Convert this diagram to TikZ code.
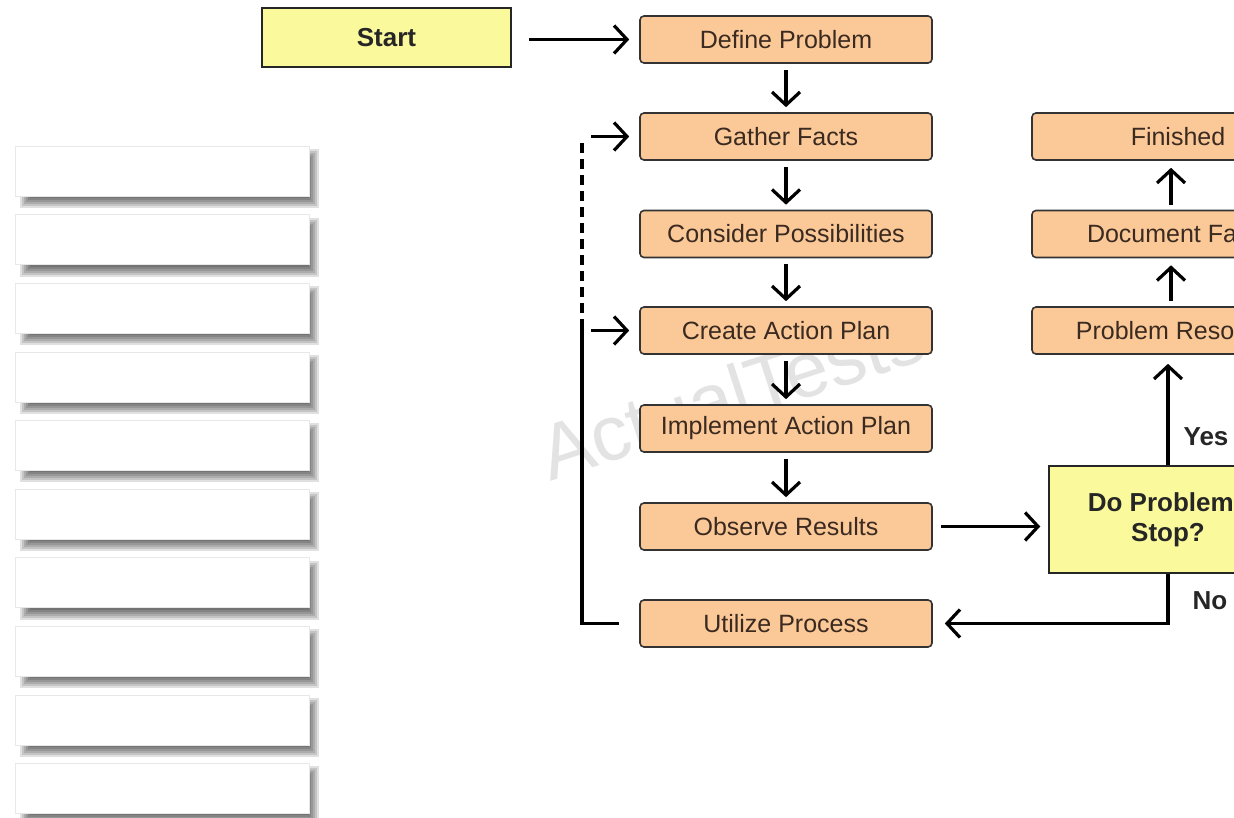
\documentclass[tikz,border=0pt]{standalone}
\usepackage{fontspec}
\setmainfont{Liberation Sans}
\usetikzlibrary{arrows.meta}
\definecolor{peach}{HTML}{FBC898}
\definecolor{yel}{HTML}{FAFA9C}
\definecolor{txt}{HTML}{3A2A20}
\tikzset{
  proc/.style={draw=black!80, line width=1.6pt, fill=peach, rounded corners=4pt,
    minimum width=292pt, minimum height=47pt, inner sep=0pt, text=txt,
    font=\fontsize{25}{30}\selectfont},
  term/.style={draw=black!85, line width=1.5pt, fill=yel, inner sep=0pt,
    font=\bfseries\fontsize{26}{30}\selectfont, text=black!85, align=center},
  lbl/.style={font=\bfseries\fontsize{26}{30}\selectfont, text=black!85},
  conn/.style={draw=black, line width=3.2pt},
  arr/.style={conn, -{Straight Barb[length=13pt,width=28pt]}},
  wbox/.style={fill=white, draw=gray!18, line width=0.6pt, minimum width=294pt,
    minimum height=50pt, inner sep=0pt},
}
\begin{document}
\begin{tikzpicture}[x=1pt,y=-1pt]
\useasboundingbox (0,0) rectangle (1234,818);
\clip (0,0) rectangle (1234,818);
\fill[white] (0,0) rectangle (1234,818);

% watermark
\node[rotate=18, anchor=base west, text=gray!22, inner sep=0pt,
      font=\fontsize{78}{84}\selectfont] (wm) at (550,482) {ActualTests};

% left white answer boxes with blurred shadows
\foreach \i in {0,...,9} {
  \pgfmathsetmacro\yt{146+68.6*\i}
  \foreach \e in {-4,-2,0,2,4,6} {
    \fill[black, opacity=0.12] (26-\e, \yt+9-\e) rectangle (313+\e, \yt+56+\e);
  }
  \node[wbox] (w\i) at (162, \yt+25) {};
}

% main flow
\node[term, minimum width=249pt, minimum height=59pt] (start) at (386.5,37.5) {Start};
\node[proc] (dp) at (786,39.5) {Define Problem};
\node[proc] (gf) at (786,136.5) {Gather Facts};
\node[proc] (cp) at (786,234) {Consider Possibilities};
\node[proc] (ca) at (786,330.5) {Create Action Plan};
\node[proc] (ia) at (786,428.5) {Implement Action Plan};
\node[proc] (or) at (786,526.5) {Observe Results};
\node[proc] (up) at (786,623.5) {Utilize Process};

\node[proc] (fi) at (1178,136.5) {Finished};
\node[proc] (df) at (1178,234) {Document Facts};
\node[proc] (pr) at (1178,330.5) {Problem Resolved};

\node[term, minimum width=238pt, minimum height=107pt] (dec) at (1168,519.5)
  {Do Problems\\Stop?};

\node[lbl] (yes) at (1206,437) {Yes};
\node[lbl] (no) at (1210,601) {No};

% connectors
\draw[arr] (start.east |- dp.west) ++(17,0) -- ([xshift=-10pt]dp.west);
\draw[arr] ([yshift=-6pt]dp.south) -- ([yshift=5pt]gf.north);
\draw[arr] ([yshift=-6pt]gf.south) -- ([yshift=5pt]cp.north);
\draw[arr] ([yshift=-6pt]cp.south) -- ([yshift=5pt]ca.north);
\draw[arr] ([yshift=-6pt]ca.south) -- ([yshift=5pt]ia.north);
\draw[arr] ([yshift=-6pt]ia.south) -- ([yshift=5pt]or.north);

\draw[arr] ([xshift=8pt]or.east) -- ([xshift=-8pt]or.east -| dec.west);
\draw[arr] (dec.north) -- ([xshift=-10pt,yshift=-9pt]pr.south);
\draw[arr] ([xshift=-7pt,yshift=5pt]pr.north) -- ([xshift=-7pt,yshift=-7pt]df.south);
\draw[arr] ([xshift=-7pt,yshift=5pt]df.north) -- ([xshift=-7pt,yshift=-7pt]fi.south);
\draw[arr] (dec.south) |- ([xshift=12pt]up.east);

\coordinate (lj) at (582,329);
\coordinate (lt) at (582,140);
\draw[conn] ([xshift=-20pt]up.west) -| (lj);
\draw[conn, dash pattern=on 10pt off 6pt] (lj) -- (lt);
\draw[arr] ([xshift=-48pt]gf.west) -- ([xshift=-10pt]gf.west);
\draw[arr] ([xshift=-48pt]ca.west) -- ([xshift=-10pt]ca.west);
\end{tikzpicture}
\end{document}
